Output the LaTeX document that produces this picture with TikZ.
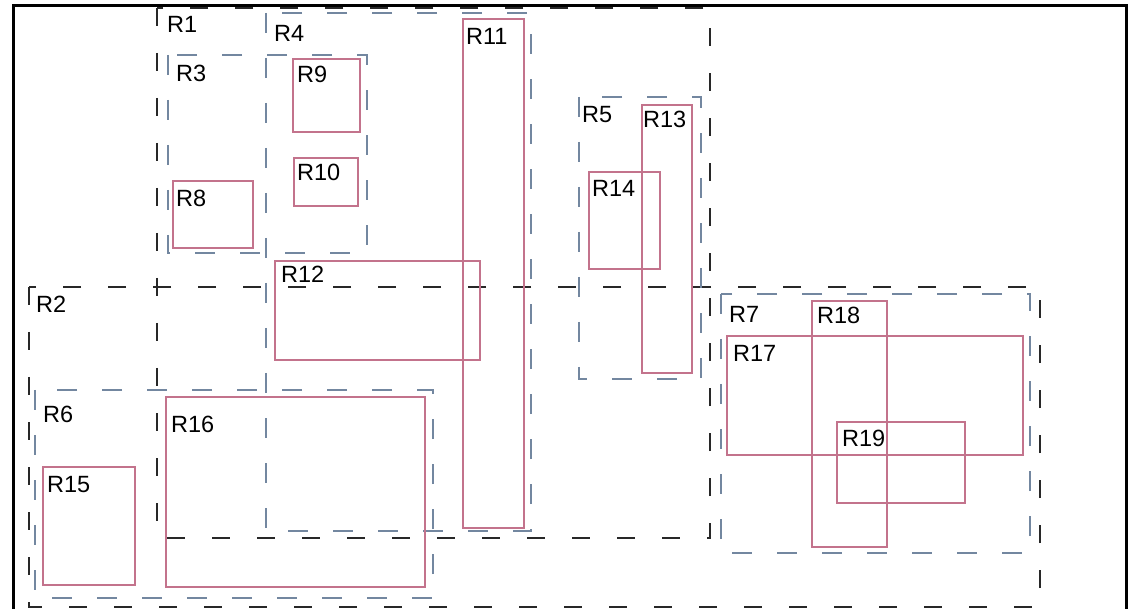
\documentclass[tikz,border=0pt]{standalone}
\usepackage{fontspec}
\setmainfont{Liberation Sans}
\definecolor{grpblack}{RGB}{40,40,40}
\definecolor{grpblue}{RGB}{115,135,160}
\definecolor{leafpink}{RGB}{195,115,140}
\begin{document}
\begin{tikzpicture}[x=1pt,y=-1pt,
  outerframe/.style={draw=black,line width=3pt},
  blackgroup/.style={draw=grpblack,line width=1.7pt,dash pattern=on 18pt off 27pt},
  bluegroup/.style={draw=grpblue,line width=1.7pt,dash pattern=on 20pt off 25pt},
  leaf/.style={draw=leafpink,line width=1.1pt},
  lbl/.style={anchor=base west,inner sep=0pt,font=\fontsize{23.5}{23.5}\selectfont,text=black}]
\useasboundingbox (0,0) rectangle (1135,609);
\fill[white] (0,0) rectangle (1135,609);
% outer frame (open at the bottom edge of the picture)
\draw[outerframe] (13,615) -- (13,6) -- (1126,6) -- (1126,615);
% black dashed groups
\draw[blackgroup] (157,8) rectangle (710,538);
\draw[blackgroup] (29,287) rectangle (1040,607);
% blue dashed groups
\draw[bluegroup] (168,55) rectangle (367,253);
\draw[bluegroup] (266,13) rectangle (531,531);
\draw[bluegroup] (579,97) rectangle (701,379);
\draw[bluegroup] (35,390) rectangle (433,598);
\draw[bluegroup] (721,294) rectangle (1030,553);
% pink leaf rectangles
\draw[leaf] (173,181) rectangle (253,248);
\draw[leaf] (293,59) rectangle (360,132);
\draw[leaf] (294,158) rectangle (358,206);
\draw[leaf] (463,19) rectangle (524,528);
\draw[leaf] (275,261) rectangle (480,360);
\draw[leaf] (642,105) rectangle (692,373);
\draw[leaf] (589,172) rectangle (660,269);
\draw[leaf] (43,467) rectangle (135,585);
\draw[leaf] (166,397) rectangle (425,587);
\draw[leaf] (727,336) rectangle (1023,455);
\draw[leaf] (812,301) rectangle (887,547);
\draw[leaf] (837,422) rectangle (965,503);
% labels
\node[lbl] (l1) at (167,33) {R1};
\node[lbl] (l2) at (36,313) {R2};
\node[lbl] (l3) at (176,82) {R3};
\node[lbl] (l4) at (274,42) {R4};
\node[lbl] (l5) at (582,123) {R5};
\node[lbl] (l6) at (43,422) {R6};
\node[lbl] (l7) at (729,323) {R7};
\node[lbl] (l8) at (176,207) {R8};
\node[lbl] (l9) at (297,83) {R9};
\node[lbl] (l10) at (297,181) {R10};
\node[lbl] (l11) at (466,45) {R11};
\node[lbl] (l12) at (281,283) {R12};
\node[lbl] (l13) at (643,128) {R13};
\node[lbl] (l14) at (592,197) {R14};
\node[lbl] (l15) at (47,492) {R15};
\node[lbl] (l16) at (171,432) {R16};
\node[lbl] (l17) at (733,362) {R17};
\node[lbl] (l18) at (817,324) {R18};
\node[lbl] (l19) at (842,446) {R19};
\end{tikzpicture}
\end{document}
